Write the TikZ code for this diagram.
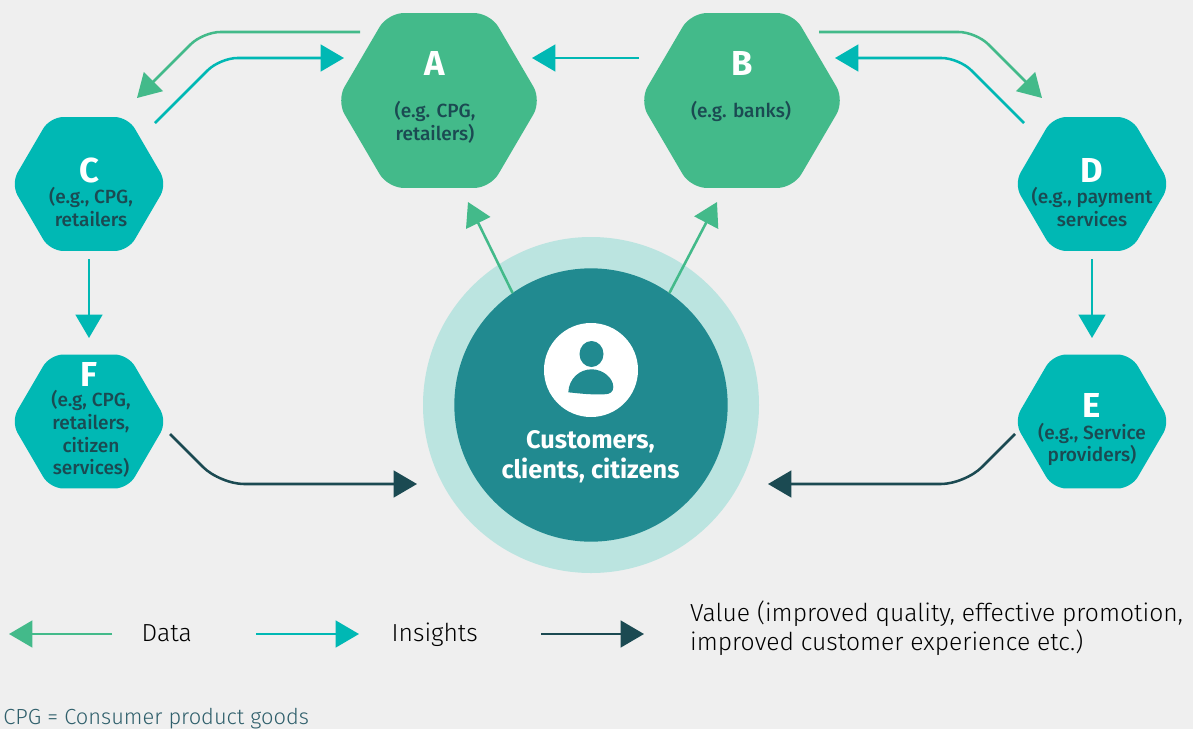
\documentclass[tikz,border=0pt]{standalone}
\usepackage{fontspec}
\setmainfont{Fira Sans}
\newfontfamily\lightfont{Fira Sans Light}
\newfontfamily\mediumfont{Fira Sans Medium}
\usetikzlibrary{arrows.meta,shapes.geometric}
\definecolor{bggray}{HTML}{EFEFEF}
\definecolor{datagreen}{HTML}{43BA8A}
\definecolor{insightteal}{HTML}{00B8B4}
\definecolor{valuedark}{HTML}{1B4A52}
\definecolor{coreteal}{HTML}{218A90}
\definecolor{haloteal}{HTML}{BBE4E0}
\definecolor{notecolor}{HTML}{2F5F6B}
\tikzset{
  bighex/.style={regular polygon, regular polygon sides=6, fill=datagreen, minimum size=151.5pt, inner sep=0pt, outer sep=0pt, rounded corners=12pt, xscale=1.015},
  smallhex/.style={regular polygon, regular polygon sides=6, fill=insightteal, minimum size=116pt, inner sep=0pt, outer sep=0pt, rounded corners=10pt, xscale=1.01},
  hextitle/.style={text=white, inner sep=0pt, font=\fontsize{26}{26}\selectfont\bfseries},
  hextext/.style={text=valuedark, inner sep=0pt, align=center, font=\fontsize{14.3}{17}\selectfont\mediumfont},
  legendtext/.style={text=black, anchor=west, align=left, font=\fontsize{18.5}{21.9}\selectfont\lightfont},
  arrowline/.style={line width=1.9pt, rounded corners=13pt, -{Triangle[length=17.5pt,width=20pt]}}
}
\begin{document}
\begin{tikzpicture}[x=0.75pt,y=-0.75pt]
  \useasboundingbox (0,0) rectangle (1193,729);
  \fill[bggray] (0,0) rectangle (1193,729);

  \node[bighex] (hexA) at (439,100.5) {};
  \node[bighex] (hexB) at (742,100.5) {};
  \node[smallhex] (hexC) at (89,184) {};
  \node[smallhex] (hexD) at (1092,184) {};
  \node[smallhex] (hexF) at (89,421.5) {};
  \node[smallhex] (hexE) at (1092,421.5) {};

  \node[hextitle] (titleA) at (435,63) {A};
  \node[hextext] (textA) at (435,122.5) {(e.g. CPG,\\retailers)};
  \node[hextitle] (titleB) at (742,63) {B};
  \node[hextext] (textB) at (741,111.5) {(e.g. banks)};
  \node[hextitle] (titleC) at (89,170) {C};
  \node[hextext] (textC) at (91,207) {(e.g., CPG,\\retailers};
  \node[hextitle] (titleD) at (1092,170) {D};
  \node[hextext] (textD) at (1092,207) {(e.g., payment\\services};
  \node[hextitle] (titleF) at (89,374) {F};
  \node[hextext] (textF) at (91,434) {(e.g, CPG,\\retailers,\\citizen\\services)};
  \node[hextitle] (titleE) at (1092,405.5) {E};
  \node[hextext] (textE) at (1092,444.5) {(e.g., Service\\providers)};

  \node[circle, fill=haloteal, minimum size=252pt, inner sep=0pt, outer sep=0pt] (halo) at (591,405) {};
  \node[circle, fill=coreteal, minimum size=205pt, inner sep=0pt, outer sep=0pt] (core) at (591,405) {};
  \node[circle, fill=white, minimum size=70.5pt, inner sep=0pt, outer sep=0pt] (icon) at (591,370) {};
  \fill[coreteal] (591.5,354) ellipse (12 and 13);
  \fill[coreteal] (568.3,392.3) .. controls (569,378) and (580,369.3) .. (591.7,369.3)
    .. controls (603,369.3) and (613.3,378) .. (613.3,387)
    .. controls (613.3,392) and (610,394.3) .. (604,394.3)
    .. controls (590,394.8) and (580,393.5) .. (568.3,392.3) -- cycle;
  \node[text=white, align=center, font=\fontsize{19}{22.5}\selectfont\bfseries] (coretext) at (590.5,457) {Customers,\\clients, citizens};

  \coordinate (acstart) at (360,32);
  \coordinate (acend) at (137,98);
  \coordinate (castart) at (155,123);
  \coordinate (caend) at (344,58);
  \coordinate (bastart) at (639,58);
  \coordinate (baend) at (532,58);
  \coordinate (bdstart) at (819,32);
  \coordinate (bdend) at (1042,98);
  \coordinate (dbstart) at (1024,123);
  \coordinate (dbend) at (835,58);
  \coordinate (cfstart) at (89,259);
  \coordinate (cfend) at (89,338);
  \coordinate (destart) at (1092,259);
  \coordinate (deend) at (1092,338);
  \coordinate (fcstart) at (170,434);
  \coordinate (fcend) at (417,484);
  \coordinate (ecstart) at (1015,434);
  \coordinate (ecend) at (768,484);
  \coordinate (uaend) at (468,202);
  \coordinate (ubend) at (717,202);

  \draw[arrowline, datagreen] (acstart) -- (203,32) -- (acend);
  \draw[arrowline, insightteal] (castart) -- (220,58) -- (caend);
  \draw[arrowline, insightteal] (bastart) -- (baend);
  \draw[arrowline, datagreen] (bdstart) -- (976,32) -- (bdend);
  \draw[arrowline, insightteal] (dbstart) -- (959,58) -- (dbend);
  \draw[arrowline, insightteal] (cfstart) -- (cfend);
  \draw[arrowline, insightteal] (destart) -- (deend);
  \draw[arrowline, valuedark, rounded corners=18pt] (fcstart) -- (220,484) -- (fcend);
  \draw[arrowline, valuedark, rounded corners=18pt] (ecstart) -- (965,484) -- (ecend);
  \draw[arrowline, datagreen] (core.125) -- (uaend);
  \draw[arrowline, datagreen] (core.55) -- (ubend);

  \coordinate (datastart) at (112,634);
  \coordinate (dataend) at (9,634);
  \coordinate (insightstart) at (256,634);
  \coordinate (insightend) at (359,634);
  \coordinate (valuestart) at (541,634);
  \coordinate (valueend) at (644,634);

  \draw[arrowline, datagreen] (datastart) -- (dataend);
  \draw[arrowline, insightteal] (insightstart) -- (insightend);
  \draw[arrowline, valuedark] (valuestart) -- (valueend);

  \node[legendtext] (datalabel) at (137,633) {Data};
  \node[legendtext] (insightlabel) at (387,634.5) {Insights};
  \node[legendtext] (valuelabel) at (685.5,628.5) {Value (improved quality, effective promotion,\\improved customer experience etc.)};
  \node[legendtext, text=notecolor, font=\fontsize{16.4}{18}\selectfont\lightfont, inner sep=0pt] (cpgnote) at (3,718.5) {CPG = Consumer product goods};
\end{tikzpicture}
\end{document}
